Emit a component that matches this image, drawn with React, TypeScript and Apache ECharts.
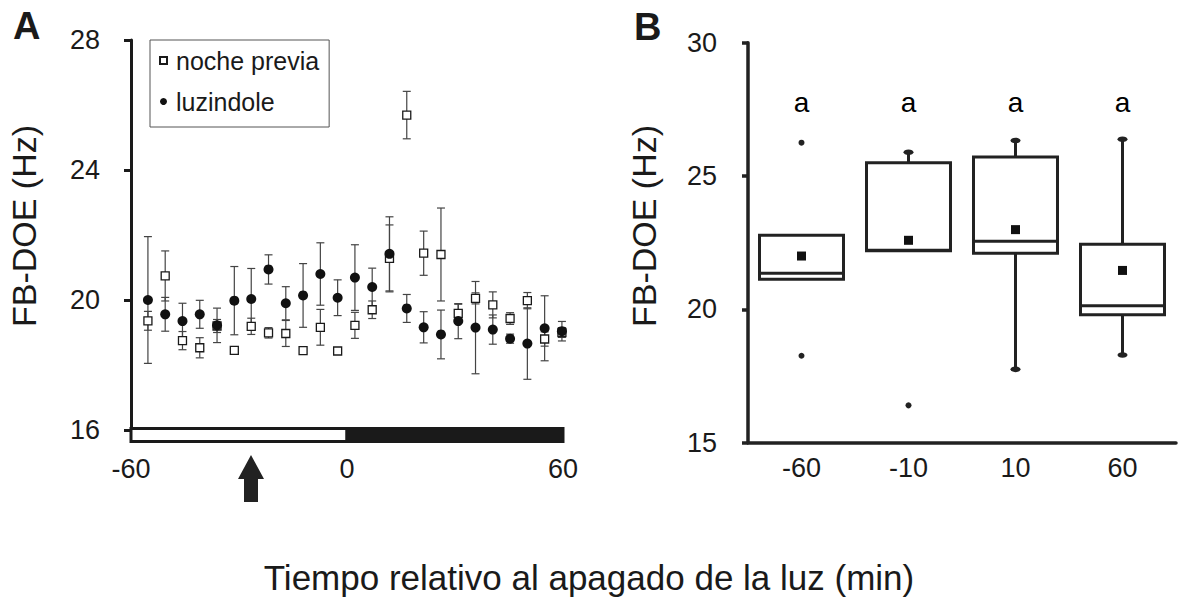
import React, { useEffect, useRef } from "react";
import * as echarts from "echarts";

// ---------- Panel A data ----------
const times = [-55.3, -50.5, -45.7, -40.9, -36.1, -31.3, -26.6, -21.8, -17.0, -12.2, -7.4, -2.6, 2.2, 7.0, 11.8, 16.6, 21.3, 26.1, 30.9, 35.7, 40.5, 45.3, 50.1, 54.9, 59.7];
const nochePrevia = [19.36, 20.74, 18.75, 18.53, 19.2, 18.45, 19.19, 18.99, 18.97, 18.44, 19.16, 18.43, 19.22, 19.7, 21.28, 25.69, 21.44, 21.4, 19.59, 20.05, 19.85, 19.43, 19.98, 18.8, 19.0];
const nocheErr = [0.29, 0.77, 0.28, 0.31, 0.2, 0.1, 0.25, 0.16, 0.4, 0.08, 0.55, 0.05, 0.4, 0.27, 1.03, 0.73, 0.68, 1.43, 0.28, 0.17, 0.4, 0.18, 0.25, 0.22, 0.15];
const luzindole = [20.0, 19.56, 19.35, 19.56, 19.22, 19.98, 20.03, 20.94, 19.9, 20.14, 20.8, 20.07, 20.69, 20.4, 21.42, 19.74, 19.16, 18.94, 19.35, 19.15, 19.09, 18.81, 18.66, 19.13, 19.04];
const luzErr = [1.95, 0.52, 0.55, 0.43, 0.53, 1.05, 0.94, 0.45, 0.51, 0.98, 0.96, 0.55, 1.01, 0.58, 1.14, 0.43, 0.48, 0.75, 0.54, 1.42, 0.45, 0.14, 1.1, 1.0, 0.3];
const lightPhases = [
  { from: -60, to: 0, dark: 0 },
  { from: 0, to: 60, dark: 1 },
];
const xTicksA = [-60, 0, 60];
const yTicksA = [16, 20, 24, 28];

// ---------- Panel B data ----------
const categoriesB = ["-60", "-10", "10", "60"];
const q1B = [21.13, 22.2, 22.1, 19.8];
const medianB = [21.35, 22.22, 22.55, 20.14];
const q3B = [22.78, 25.5, 25.71, 22.44];
const whiskerLowB = [21.13, 22.2, 17.75, 18.29];
const whiskerHighB = [22.78, 25.89, 26.33, 26.38];
const meansB = [22.0, 22.59, 22.99, 21.46];
const outliersB = [
  [0, 26.25],
  [0, 18.26],
  [1, 16.4],
];
const lettersB = ["a", "a", "a", "a"];

const FONT = "'Liberation Sans', Arial, Helvetica, sans-serif";
const INK = "#1a1a1a";
const BAR_TOP = 16.05;
const BAR_BOTTOM = 15.65;
const LETTER_Y = 27.75;

function errRender(params: any, api: any) {
  const x = api.value(0);
  const y = api.value(1);
  const e = api.value(2);
  const t = api.coord([x, y + e]);
  const b = api.coord([x, y - e]);
  const hw = 4;
  const style = { stroke: "#444", lineWidth: 1.2, fill: null };
  return {
    type: "group",
    children: [
      { type: "line", shape: { x1: t[0], y1: t[1], x2: b[0], y2: b[1] }, style },
      { type: "line", shape: { x1: t[0] - hw, y1: t[1], x2: t[0] + hw, y2: t[1] }, style },
      { type: "line", shape: { x1: b[0] - hw, y1: b[1], x2: b[0] + hw, y2: b[1] }, style },
    ],
  };
}

function barRender(params: any, api: any) {
  const from = api.value(0);
  const to = api.value(1);
  const dark = api.value(2);
  const p1 = api.coord([from, BAR_TOP]);
  const p2 = api.coord([to, BAR_BOTTOM]);
  return {
    type: "rect",
    shape: { x: p1[0], y: p1[1], width: p2[0] - p1[0], height: p2[1] - p1[1] },
    style: { fill: dark ? INK : "#fff", stroke: INK, lineWidth: 3 },
  };
}

function boxRender(params: any, api: any) {
  const i = api.value(0);
  const q1 = api.coord([i, api.value(1)]);
  const med = api.coord([i, api.value(2)]);
  const q3 = api.coord([i, api.value(3)]);
  const lo = api.coord([i, api.value(4)]);
  const hi = api.coord([i, api.value(5)]);
  const bw = api.size([1, 0])[0] * 0.785;
  const cx = q1[0];
  const st = { stroke: "#222", lineWidth: 3, fill: null };
  const children: any[] = [];
  if (hi[1] < q3[1] - 0.5) {
    children.push({ type: "line", shape: { x1: cx, y1: q3[1], x2: cx, y2: hi[1] }, style: st });
    children.push({ type: "ellipse", shape: { cx, cy: hi[1], rx: 5, ry: 2.8 }, style: { fill: "#222" } });
  }
  if (lo[1] > q1[1] + 0.5) {
    children.push({ type: "line", shape: { x1: cx, y1: q1[1], x2: cx, y2: lo[1] }, style: st });
    children.push({ type: "ellipse", shape: { cx, cy: lo[1], rx: 5, ry: 2.8 }, style: { fill: "#222" } });
  }
  children.push({
    type: "rect",
    shape: { x: cx - bw / 2, y: q3[1], width: bw, height: q1[1] - q3[1] },
    style: { fill: "#fff", stroke: "#222", lineWidth: 3 },
  });
  children.push({ type: "line", shape: { x1: cx - bw / 2, y1: med[1], x2: cx + bw / 2, y2: med[1] }, style: st });
  return { type: "group", children };
}

export default function App() {
  const ref = useRef<HTMLDivElement>(null);
  useEffect(() => {
    if (!ref.current) return;
    const chart = echarts.init(ref.current, null, { renderer: "svg" });
    const option: any = {
      animation: false,
      backgroundColor: "#fff",
      textStyle: { fontFamily: FONT },
      grid: [
        { left: 131, top: 40, width: 432, height: 390 },
        { left: 748, top: 42.7, width: 428, height: 400 },
      ],
      legend: {
        data: [
          { name: "noche previa", icon: "rect" },
          { name: "luzindole", icon: "circle" },
        ],
        left: 150,
        top: 40,
        orient: "vertical",
        borderColor: "#555",
        borderWidth: 1,
        padding: [8, 10, 13, 9],
        itemGap: 16,
        itemWidth: 7,
        itemHeight: 7,
        selectedMode: false,
        textStyle: { fontSize: 25, color: INK, fontFamily: FONT, padding: [0, 0, 0, 4] },
      },
      xAxis: [
        {
          type: "value",
          gridIndex: 0,
          min: xTicksA[0],
          max: xTicksA[xTicksA.length - 1],
          interval: 60,
          axisLine: { show: false, onZero: false },
          axisTick: { show: false },
          splitLine: { show: false },
          axisLabel: { fontSize: 27, color: INK, margin: 25, fontFamily: FONT },
        },
        {
          type: "category",
          gridIndex: 1,
          data: categoriesB,
          axisLine: { show: true, onZero: false, lineStyle: { color: "#222", width: 3.5 } },
          axisTick: { show: false },
          axisLabel: { fontSize: 27, color: INK, margin: 12, fontFamily: FONT },
        },
      ],
      yAxis: [
        {
          type: "value",
          gridIndex: 0,
          min: yTicksA[0],
          max: yTicksA[yTicksA.length - 1],
          interval: 4,
          axisLine: { show: true, onZero: false, lineStyle: { color: INK, width: 3 } },
          axisTick: { show: true, length: 7, lineStyle: { width: 3, color: INK } },
          splitLine: { show: false },
          axisLabel: { fontSize: 27, color: INK, margin: 31, fontFamily: FONT },
        },
        {
          type: "value",
          gridIndex: 1,
          min: 15,
          max: 30,
          interval: 5,
          axisLine: { show: true, onZero: false, lineStyle: { color: "#222", width: 3.5 } },
          axisTick: { show: true, length: 6, lineStyle: { width: 3.5, color: "#222" } },
          splitLine: { show: false },
          axisLabel: { fontSize: 27, color: INK, margin: 31, fontFamily: FONT },
        },
      ],
      series: [
        {
          type: "custom",
          xAxisIndex: 0,
          yAxisIndex: 0,
          renderItem: errRender,
          data: times.map((t, i) => [t, nochePrevia[i], nocheErr[i]]),
          z: 1,
          silent: true,
        },
        {
          type: "custom",
          xAxisIndex: 0,
          yAxisIndex: 0,
          renderItem: errRender,
          data: times.map((t, i) => [t, luzindole[i], luzErr[i]]),
          z: 1,
          silent: true,
        },
        {
          name: "noche previa",
          type: "scatter",
          xAxisIndex: 0,
          yAxisIndex: 0,
          symbol: "rect",
          symbolSize: 8,
          itemStyle: { color: "#fff", borderColor: INK, borderWidth: 1.3, opacity: 1 },
          data: times.map((t, i) => [t, nochePrevia[i]]),
          z: 2,
        },
        {
          name: "luzindole",
          type: "scatter",
          xAxisIndex: 0,
          yAxisIndex: 0,
          symbol: "circle",
          symbolSize: 10,
          itemStyle: { color: "#111", opacity: 1 },
          data: times.map((t, i) => [t, luzindole[i]]),
          z: 3,
        },
        {
          type: "custom",
          xAxisIndex: 0,
          yAxisIndex: 0,
          renderItem: barRender,
          clip: false,
          data: lightPhases.map((p) => [p.from, p.to, p.dark]),
          z: 4,
          silent: true,
        },
        {
          type: "custom",
          xAxisIndex: 1,
          yAxisIndex: 1,
          renderItem: boxRender,
          data: categoriesB.map((c, i) => [i, q1B[i], medianB[i], q3B[i], whiskerLowB[i], whiskerHighB[i]]),
          z: 2,
          silent: true,
        },
        {
          type: "scatter",
          xAxisIndex: 1,
          yAxisIndex: 1,
          symbol: "rect",
          symbolSize: 9,
          itemStyle: { color: "#111", opacity: 1 },
          data: meansB.map((m, i) => [i, m]),
          z: 3,
        },
        {
          type: "scatter",
          xAxisIndex: 1,
          yAxisIndex: 1,
          symbol: "circle",
          symbolSize: 6,
          itemStyle: { color: "#222", opacity: 1 },
          data: outliersB,
          z: 3,
        },
        {
          type: "scatter",
          xAxisIndex: 1,
          yAxisIndex: 1,
          symbolSize: 1,
          itemStyle: { color: "#fff", opacity: 1 },
          label: {
            show: true,
            position: "inside",
            formatter: (p: any) => lettersB[p.dataIndex],
            fontSize: 28,
            color: "#000",
            opacity: 1,
            fontFamily: FONT,
          },
          data: lettersB.map((l, i) => [i, LETTER_Y]),
          z: 3,
          silent: true,
        },
      ],
      graphic: [
        {
          type: "text",
          left: 13,
          top: 7,
          style: { text: "A", fontSize: 38, fontWeight: "bold", fill: INK, fontFamily: FONT },
        },
        {
          type: "text",
          left: 634,
          top: 8,
          style: { text: "B", fontSize: 38, fontWeight: "bold", fill: INK, fontFamily: FONT },
        },
        {
          type: "text",
          x: 24,
          y: 226,
          rotation: Math.PI / 2,
          style: {
            text: "FB-DOE (Hz)",
            fontSize: 34,
            fill: INK,
            fontFamily: FONT,
            textAlign: "center",
            textVerticalAlign: "middle",
          },
        },
        {
          type: "text",
          x: 644,
          y: 226,
          rotation: Math.PI / 2,
          style: {
            text: "FB-DOE (Hz)",
            fontSize: 34,
            fill: INK,
            fontFamily: FONT,
            textAlign: "center",
            textVerticalAlign: "middle",
          },
        },
        {
          type: "text",
          x: 589,
          y: 577,
          style: {
            text: "Tiempo relativo al apagado de la luz (min)",
            fontSize: 35,
            fill: INK,
            fontFamily: FONT,
            textAlign: "center",
            textVerticalAlign: "middle",
          },
        },
        {
          type: "polygon",
          shape: {
            points: [
              [251, 455],
              [264, 479],
              [258, 479],
              [258, 502],
              [244, 502],
              [244, 479],
              [238, 479],
            ],
          },
          style: { fill: "#222" },
        },
      ],
    };
    chart.setOption(option);
    return () => chart.dispose();
  }, []);
  return (
    <div
      ref={ref}
      style={{ position: "fixed", left: 0, top: 0, width: 1178, height: 603, background: "#fff" }}
    />
  );
}
